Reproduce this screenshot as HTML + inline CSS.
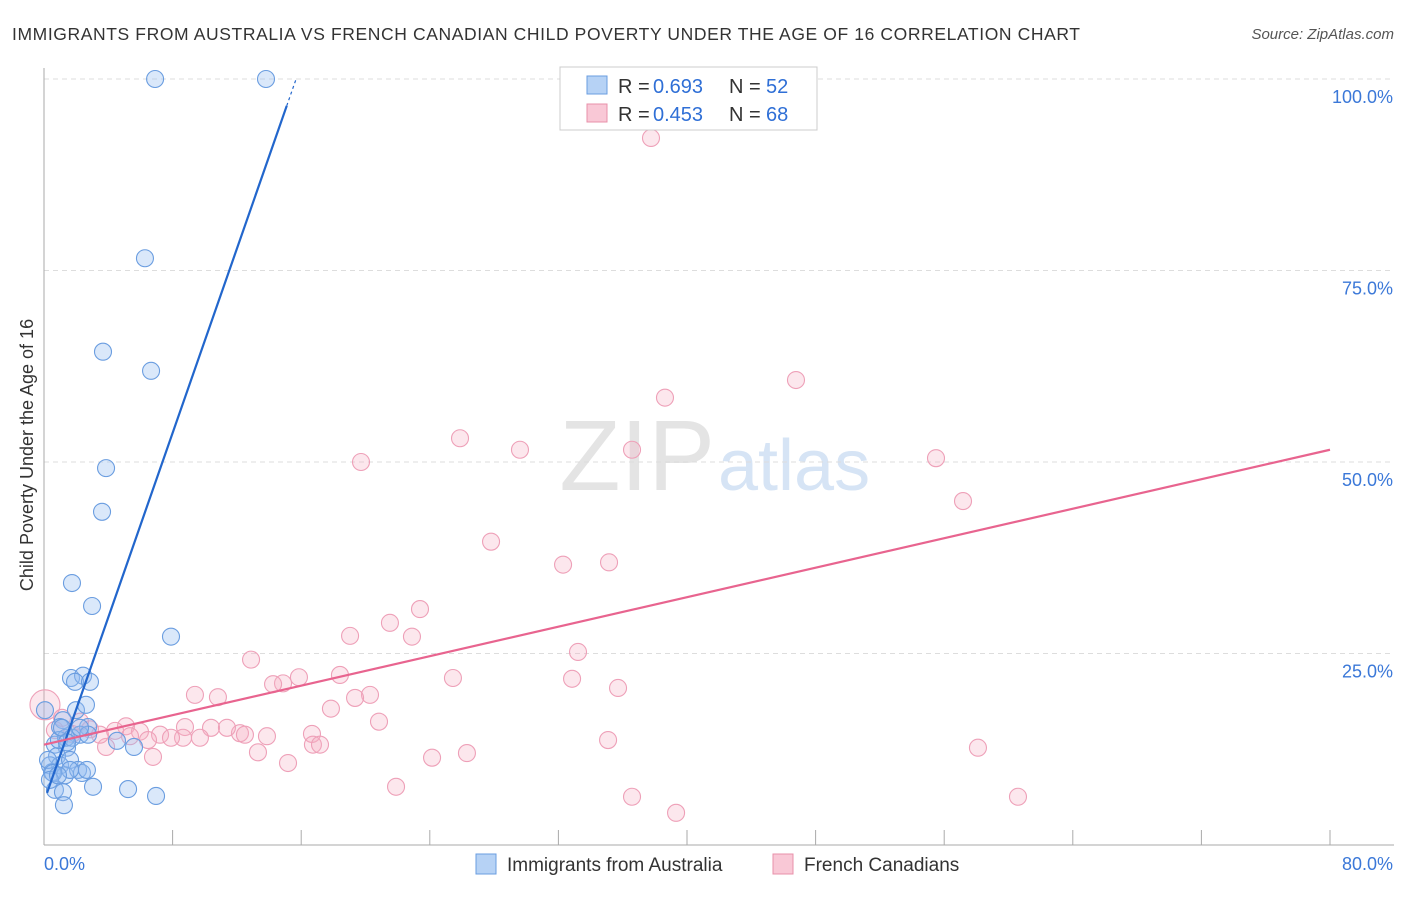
<!DOCTYPE html>
<html><head><meta charset="utf-8"><style>
body{margin:0;background:#fff;font-family:"Liberation Sans",sans-serif;}
svg text{font-family:"Liberation Sans",sans-serif;}
</style></head><body>
<svg id="c" width="1406" height="892">
<text x="12" y="40" font-size="17.5" fill="#333" textLength="1068">IMMIGRANTS FROM AUSTRALIA VS FRENCH CANADIAN CHILD POVERTY UNDER THE AGE OF 16 CORRELATION CHART</text>
<text x="1394" y="39" font-size="15" fill="#555" font-style="italic" text-anchor="end">Source: ZipAtlas.com</text>
<text x="715" y="490" font-size="100" fill="#e4e4e4" text-anchor="end" font-family="Liberation Serif">ZIP</text>
<text x="718" y="490" font-size="72" fill="#d6e4f5">atlas</text>
<g id="grid"></g><g id="axes"></g><g id="pts"></g><g id="lines"></g>
<text x="33" y="455" font-size="18" fill="#333" text-anchor="middle" transform="rotate(-90 33 455)">Child Poverty Under the Age of 16</text>
<g>
<rect x="560" y="67" width="257" height="63" fill="#fff" stroke="#ccc"/>
<rect x="587" y="76" width="20" height="18" fill="#b6d2f5" stroke="#6a9de0"/>
<rect x="587" y="104" width="20" height="18" fill="#f9c8d6" stroke="#e890aa"/>
<text x="618" y="93" font-size="20" fill="#333">R =</text><text x="653" y="93" font-size="20" fill="#2f6fd6">0.693</text>
<text x="729" y="93" font-size="20" fill="#333">N =</text><text x="766" y="93" font-size="20" fill="#2f6fd6">52</text>
<text x="618" y="121" font-size="20" fill="#333">R =</text><text x="653" y="121" font-size="20" fill="#2f6fd6">0.453</text>
<text x="729" y="121" font-size="20" fill="#333">N =</text><text x="766" y="121" font-size="20" fill="#2f6fd6">68</text>
</g>
<g>
<rect x="476" y="854" width="20" height="20" fill="#b6d2f5" stroke="#6a9de0"/>
<text x="507" y="871" font-size="19" fill="#333">Immigrants from Australia</text>
<rect x="773" y="854" width="20" height="20" fill="#f9c8d6" stroke="#e890aa"/>
<text x="804" y="871" font-size="19" fill="#333">French Canadians</text>
</g>
</svg>
<script>
const bluePx=[[155,79],[266,79],[145,258],[103,352],[151,371],[106,468],[102,512],[72,583],[92,606],[171,637],[71,678],[83,676],[75,682],[90,682],[76,710],[86,705],[63,720],[88,727],[60,727],[80,735],[55,745],[67,748],[57,756],[50,765],[60,765],[70,760],[52,772],[65,775],[78,770],[82,773],[87,770],[55,790],[63,792],[64,805],[93,787],[128,789],[156,796],[117,741],[134,747],[88,735],[66,738],[48,760],[59,740],[53,773],[70,770],[45,710],[62,728],[72,738],[80,728],[67,742],[50,780],[58,775]];
const pinkPx=[[651,138],[796,380],[665,398],[460,438],[361,462],[520,450],[632,450],[936,458],[963,501],[491,542],[563,565],[609,562],[420,609],[390,623],[350,636],[412,637],[578,652],[251,660],[299,677],[283,683],[273,684],[340,675],[195,695],[218,697],[370,695],[355,698],[453,678],[572,679],[618,688],[331,709],[379,722],[312,734],[313,745],[320,745],[267,736],[240,733],[211,728],[185,727],[183,738],[200,738],[227,728],[245,735],[258,752],[288,763],[396,787],[432,758],[467,753],[608,740],[978,748],[632,797],[676,813],[1018,797],[153,757],[106,747],[126,726],[140,732],[160,735],[171,738],[100,735],[115,731],[130,736],[148,740],[90,729],[72,734],[55,730],[45,705],[62,718],[80,722]];
// data values (percent)
const blueX=bluePx.map(p=>+((p[0]-44)/16.075).toFixed(2));
const blueY=bluePx.map(p=>+((845-p[1])/7.66).toFixed(1));
const pinkX=pinkPx.map(p=>+((p[0]-44)/16.075).toFixed(2));
const pinkY=pinkPx.map(p=>+((845-p[1])/7.66).toFixed(1));
const blueTrend=[[0.19,6.8],[15.1,96.5],[15.7,100.1]];
const pinkTrend=[[0,13.1],[80,51.6]];
const yTicks=[25,50,75,100];
const yTickLabels=["25.0%","50.0%","75.0%","100.0%"];
const xTicks=[0,8,16,24,32,40,48,56,64,72,80];

const X=v=>44+v*16.075, Y=v=>845-v*7.66;
const NS="http://www.w3.org/2000/svg";
function mk(t,a,parent){const e=document.createElementNS(NS,t);for(const k in a)e.setAttribute(k,a[k]);document.getElementById(parent).appendChild(e);return e;}
yTicks.forEach((t,i)=>{
 const g=mk('line',{x1:44,x2:1394,y1:Y(t),y2:Y(t),stroke:'#ddd','stroke-dasharray':'5,4'},'grid');
 
 
 const tx=mk('text',{x:1393,y:Y(t)+24,'font-size':18,fill:'#3b78d8','text-anchor':'end'},'grid');
 tx.textContent=yTickLabels[i];
 
 
});
const ax=mk('line',{x1:44,x2:44,y1:68,y2:845,stroke:'#aaa'},'axes');


const bx=mk('line',{x1:44,x2:1394,y1:845,y2:845,stroke:'#aaa'},'axes');


xTicks.forEach(t=>{
 const l=mk('line',{x1:X(t),x2:X(t),y1:830,y2:845,stroke:'#aaa'},'axes');
 
 
});
const xl0=mk('text',{x:44,y:870,'font-size':18,fill:'#3b78d8'},'axes');xl0.textContent='0.0%';


const xl1=mk('text',{x:1393,y:870,'font-size':18,fill:'#3b78d8','text-anchor':'end'},'axes');xl1.textContent='80.0%';


pinkX.forEach((x,i)=>{
 const r=(i==65)?15:8.5;
 const c=mk('circle',{cx:X(x),cy:Y(pinkY[i]),r:r,fill:'rgba(246,175,196,0.3)',stroke:'#eea0b8','stroke-width':1.1},'pts');
 
 
});
blueX.forEach((x,i)=>{
 const c=mk('circle',{cx:X(x),cy:Y(blueY[i]),r:8.5,fill:'rgba(150,190,240,0.35)',stroke:'#6a9de0','stroke-width':1.1},'pts');
 
 
});
const bl=mk('line',{x1:X(blueTrend[0][0]),y1:Y(blueTrend[0][1]),x2:X(blueTrend[1][0]),y2:Y(blueTrend[1][1]),stroke:'#2266cc','stroke-width':2.2},'lines');


const bd=mk('line',{x1:X(blueTrend[1][0]),y1:Y(blueTrend[1][1]),x2:X(blueTrend[2][0]),y2:Y(blueTrend[2][1]),stroke:'#2266cc','stroke-width':1.2,'stroke-dasharray':'3,3'},'lines');


const pl=mk('line',{x1:X(pinkTrend[0][0]),y1:Y(pinkTrend[0][1]),x2:X(pinkTrend[1][0]),y2:Y(pinkTrend[1][1]),stroke:'#e8648f','stroke-width':2.2},'lines');


</script>
</body></html>
